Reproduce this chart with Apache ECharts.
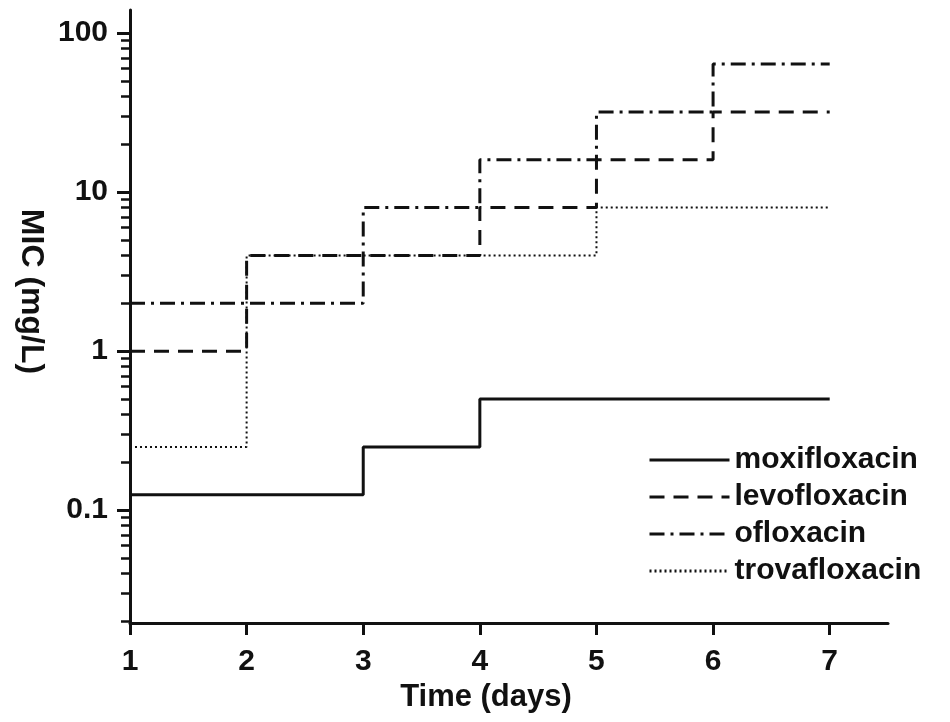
<!DOCTYPE html>
<html>
<head>
<meta charset="utf-8">
<script src="https://cdn.jsdelivr.net/npm/echarts@6/dist/echarts.min.js"></script>
<style>
  html, body { margin: 0; padding: 0; background: #fff; }
  #main { width: 950px; height: 722px; }
</style>
</head>
<body>
<div id="main"></div>
<script>
// x axis: days
var days = [1, 2, 3, 4, 5, 6, 7]
// MIC (mg/L) on each day
var moxifloxacin = [0.125, 0.125, 0.25, 0.5, 0.5, 0.5, 0.5]
var levofloxacin = [1, 4, 4, 8, 16, 32, 32]
var ofloxacin = [2, 2, 8, 16, 32, 64, 64]
var trovafloxacin = [0.25, 4, 4, 4, 8, 8, 8]
// y axis ticks (log)
var yMajorTicks = [0.1, 1, 10, 100]
var yMinorTicks = [0.02, 0.03, 0.04, 0.05, 0.06, 0.07, 0.08, 0.09,
  0.2, 0.3, 0.4, 0.5, 0.6, 0.7, 0.8, 0.9,
  2, 3, 4, 5, 6, 7, 8, 9,
  20, 30, 40, 50, 60, 70, 80, 90]

var FONT = 'Liberation Sans'
var INK = '#111'
var Y_MIN = 0.0195, Y_MAX = 140

function pairs(vals) {
  return days.map(function (d, i) { return [d, vals[i]] })
}

function stepSeries(name, vals, lineType, width) {
  return {
    name: name,
    type: 'line',
    step: 'end',
    symbol: 'none',
    data: pairs(vals),
    lineStyle: { color: INK, width: width, type: lineType },
    itemStyle: { color: INK }
  }
}

var chart = echarts.init(document.getElementById('main'))

var option = {
  backgroundColor: '#fff',
  animation: false,
  grid: { left: 130, right: 62, top: 10, bottom: 99 },
  legend: {
    orient: 'vertical',
    left: 643,
    top: 440,
    itemWidth: 80,
    itemHeight: 14,
    itemGap: 7,
    data: ['moxifloxacin', 'levofloxacin', 'ofloxacin', 'trovafloxacin'],
    itemStyle: { opacity: 0 },
    lineStyle: { width: 3 },
    textStyle: { fontFamily: FONT, fontSize: 30, fontWeight: 'bold', color: INK }
  },
  xAxis: {
    type: 'value',
    min: 1,
    max: 7.5,
    interval: 1,
    name: 'Time (days)',
    nameLocation: 'middle',
    nameGap: 57,
    nameTextStyle: { fontFamily: FONT, fontSize: 31, fontWeight: 'bold', color: INK, padding: [0, 46, 0, 0] },
    axisLine: { onZero: false, lineStyle: { color: INK, width: 3 } },
    axisTick: { customValues: days, length: 12, lineStyle: { color: INK, width: 3 } },
    axisLabel: { customValues: days, margin: 24, fontFamily: FONT, fontSize: 30, fontWeight: 'bold', color: INK },
    splitLine: { show: false }
  },
  yAxis: [
    {
      // log axis for the series: line, major ticks, labels, title
      type: 'log',
      logBase: 10,
      position: 'left',
      min: Y_MIN,
      max: Y_MAX,
      name: 'MIC (mg/L)',
      nameLocation: 'middle',
      nameRotate: -90,
      nameGap: 78,
      nameTextStyle: { fontFamily: FONT, fontSize: 32, fontWeight: 'bold', color: INK, padding: [0, 50, 0, 0] },
      axisLine: { show: true, onZero: false, lineStyle: { color: INK, width: 3 } },
      axisTick: { customValues: yMajorTicks, length: 13, lineStyle: { color: INK, width: 3 } },
      axisLabel: {
        customValues: yMajorTicks,
        margin: 22,
        fontFamily: FONT, fontSize: 30, fontWeight: 'bold', color: INK,
        formatter: function (v) { return String(+Number(v).toPrecision(6)) }
      },
      splitLine: { show: false }
    },
    {
      // helper axis in log10 units, only draws the minor ticks
      type: 'value',
      position: 'left',
      min: Math.log10(Y_MIN),
      max: Math.log10(Y_MAX),
      axisLine: { show: false, onZero: false },
      axisTick: { customValues: yMinorTicks.map(Math.log10), length: 9, lineStyle: { color: INK, width: 2.5 } },
      axisLabel: { show: false },
      splitLine: { show: false }
    }
  ],
  series: [
    stepSeries('moxifloxacin', moxifloxacin, 'solid', 3),
    stepSeries('levofloxacin', levofloxacin, [15, 9], 3),
    stepSeries('ofloxacin', ofloxacin, [15, 6, 3, 6], 3),
    stepSeries('trovafloxacin', trovafloxacin, [2, 3], 2)
  ]
}

chart.setOption(option)
</script>
</body>
</html>
